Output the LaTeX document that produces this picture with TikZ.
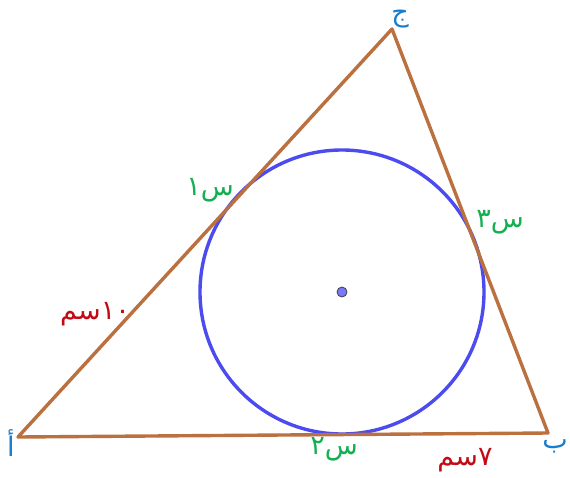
\documentclass[tikz,border=0pt]{standalone}
\usepackage{fontspec}
\TeXXeTstate=1
\newfontfamily\arabicfont[Script=Arabic]{DejaVu Sans}
\definecolor{edgebrown}{RGB}{187,112,64}
\definecolor{circblue}{RGB}{75,75,240}
\definecolor{vertblue}{RGB}{25,125,205}
\definecolor{tangreen}{RGB}{20,175,80}
\definecolor{lenred}{RGB}{195,10,20}
\definecolor{dotblue}{RGB}{120,120,250}
\tikzset{
  vlabel/.style={font=\arabicfont\fontsize{27}{30}\selectfont, text=vertblue, inner sep=0pt},
  tlabel/.style={font=\arabicfont\fontsize{27}{30}\selectfont, text=tangreen, inner sep=0pt},
  llabel/.style={font=\arabicfont\fontsize{27}{30}\selectfont, text=lenred, inner sep=0pt},
  edge/.style={draw=edgebrown, line width=3.4pt, line join=round, line cap=round},
  incircle/.style={draw=circblue, line width=3.4pt}
}
\begin{document}
\begin{tikzpicture}[x=1pt,y=-1pt]
\useasboundingbox (0,0) rectangle (570,477);
\coordinate (A) at (18,437);
\coordinate (B) at (548,433);
\coordinate (C) at (392,29);
\coordinate (O) at (342,292);
\draw[incircle] (O) circle[radius=142];
\draw[edge] (A) -- (B) -- (C) -- cycle;
\node[circle, fill=dotblue, draw=black!75, line width=0.8pt, minimum size=10pt, inner sep=0pt] (dot) at (O) {};
\node[vlabel] (la) at (11,443) {\beginR أ\endR};
\node[vlabel] (lb) at (555,446) {\beginR ب\endR};
\node[vlabel] (lc) at (400,19) {\beginR ج\endR};
\node[tlabel] (s1) at (210,190) {\beginR س\beginL ١\endL\endR};
\node[tlabel] (s3) at (500,222) {\beginR س\beginL ٣\endL\endR};
\node[tlabel] (s2) at (334,449) {\beginR س\beginL ٢\endL\endR};
\node[llabel] (l10) at (95,314) {\beginR\beginL ١٠\endL سم\endR};
\node[llabel] (l7) at (465,460) {\beginR\beginL ٧\endL سم\endR};
\end{tikzpicture}
\end{document}
